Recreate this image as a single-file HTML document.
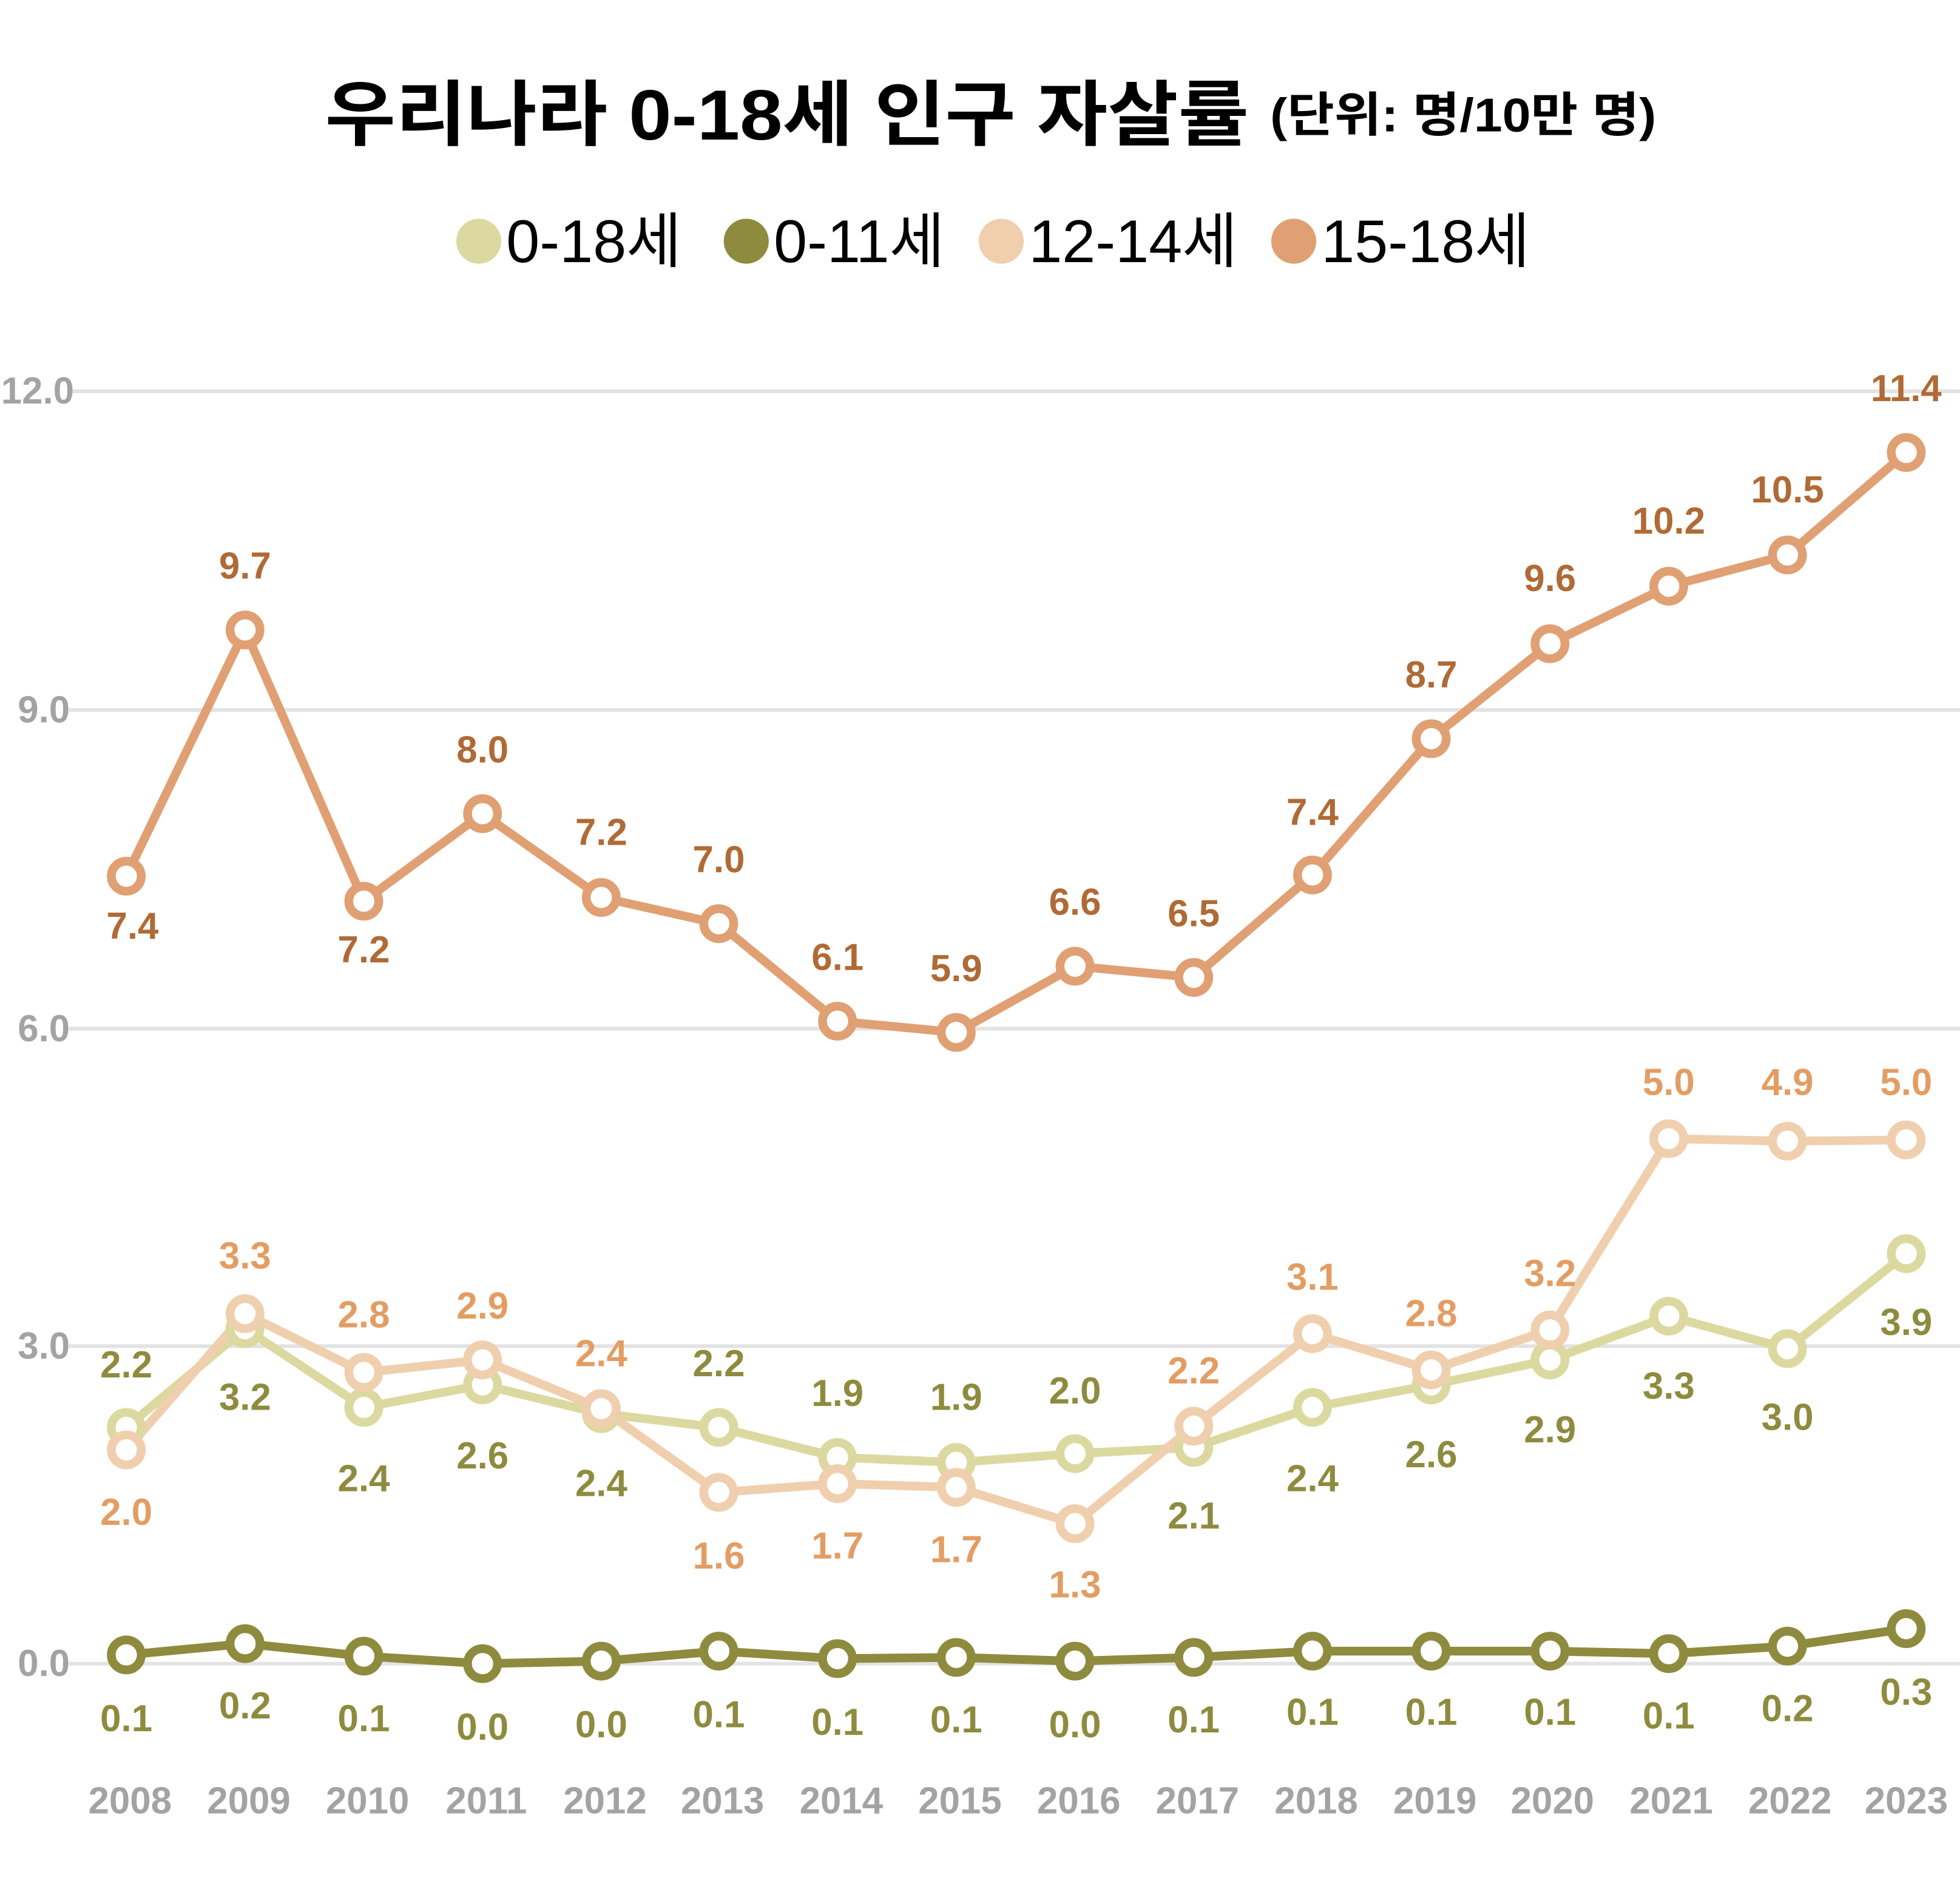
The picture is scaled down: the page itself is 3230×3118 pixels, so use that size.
<!DOCTYPE html>
<html><head><meta charset="utf-8"><style>
html,body{margin:0;padding:0;background:#fff;}
svg{display:block}
.t{font-family:"Liberation Sans Narrow","Liberation Sans",sans-serif;font-weight:bold;font-size:30px;text-anchor:middle;dominant-baseline:central}
.ax{fill:#a3a3a3}
.a{fill:#b06a35}.b{fill:#e39d63}.c{fill:#8e8b3e}
</style></head><body>
<svg width="3230" height="3118" viewBox="0 0 1568 1513.7" xmlns="http://www.w3.org/2000/svg">
<text x="260" y="92" textLength="1065" lengthAdjust="spacingAndGlyphs" dominant-baseline="central" font-family="'Liberation Sans','Noto Sans CJK KR',sans-serif" font-weight="bold" font-size="57" fill="#000">우리나라 0-18세 인구 자살률 <tspan font-size="38">(단위: 명/10만 명)</tspan></text>
<g font-family="'Liberation Sans','Noto Sans CJK KR',sans-serif" font-size="48" fill="#000" dominant-baseline="central">
<circle cx="383" cy="193" r="18" fill="#dcd9a0"/><text x="405" y="193">0-18세</text>
<circle cx="597" cy="193" r="18" fill="#8e8b3e"/><text x="619" y="193">0-11세</text>
<circle cx="801" cy="193" r="18" fill="#f0cfae"/><text x="823" y="193">12-14세</text>
<circle cx="1035" cy="193" r="18" fill="#e0a073"/><text x="1057" y="193">15-18세</text>
</g>
<g stroke="#e3e3e3" stroke-width="3">
<line x1="55" y1="313" x2="1568" y2="313"/><line x1="55" y1="568" x2="1568" y2="568"/><line x1="55" y1="823" x2="1568" y2="823"/><line x1="55" y1="1077" x2="1568" y2="1077"/><line x1="55" y1="1331" x2="1568" y2="1331"/>
</g>
<g class="t ax">
<text x="30" y="313">12.0</text><text x="35" y="568">9.0</text><text x="35" y="823">6.0</text><text x="35" y="1077">3.0</text><text x="35" y="1331">0.0</text>
<text x="104" y="1441">2008</text><text x="199" y="1441">2009</text><text x="294" y="1441">2010</text><text x="389" y="1441">2011</text><text x="484" y="1441">2012</text><text x="578" y="1441">2013</text><text x="673" y="1441">2014</text><text x="768" y="1441">2015</text><text x="863" y="1441">2016</text><text x="958" y="1441">2017</text><text x="1053" y="1441">2018</text><text x="1148" y="1441">2019</text><text x="1242" y="1441">2020</text><text x="1337" y="1441">2021</text><text x="1432" y="1441">2022</text><text x="1525" y="1441">2023</text>
</g>
<g fill="#fff" stroke-width="7" stroke-linejoin="round">
<polyline fill="none" stroke="#dcd9a0" points="101,1142 196,1063 291,1126 386,1108 481,1131 575,1142 670,1166 765,1170 860,1163 955,1158 1050,1126 1145,1108 1240,1088 1335,1053 1430,1079 1525,1003"/>
<polyline fill="none" stroke="#f0cfae" points="101,1160 196,1051 291,1098 386,1088 481,1127 575,1194 670,1187 765,1190 860,1219 955,1141 1050,1067 1145,1096 1240,1064 1335,911 1430,913 1525,912"/>
<polyline fill="none" stroke="#8e8b3e" points="101,1324 196,1315 291,1325 386,1331 481,1329 575,1321 670,1327 765,1326 860,1329 955,1326 1050,1321 1145,1321 1240,1321 1335,1323 1430,1317 1525,1303"/>
<polyline fill="none" stroke="#e0a073" points="101,701 196,504 291,721 386,651 481,718 575,739 670,817 765,826 860,773 955,782 1050,700 1145,591 1240,515 1335,469 1430,444 1525,362"/>
<g stroke="#dcd9a0"><circle cx="101" cy="1142" r="12"/><circle cx="196" cy="1063" r="12"/><circle cx="291" cy="1126" r="12"/><circle cx="386" cy="1108" r="12"/><circle cx="481" cy="1131" r="12"/><circle cx="575" cy="1142" r="12"/><circle cx="670" cy="1166" r="12"/><circle cx="765" cy="1170" r="12"/><circle cx="860" cy="1163" r="12"/><circle cx="955" cy="1158" r="12"/><circle cx="1050" cy="1126" r="12"/><circle cx="1145" cy="1108" r="12"/><circle cx="1240" cy="1088" r="12"/><circle cx="1335" cy="1053" r="12"/><circle cx="1430" cy="1079" r="12"/><circle cx="1525" cy="1003" r="12"/></g>
<g stroke="#f0cfae"><circle cx="101" cy="1160" r="12"/><circle cx="196" cy="1051" r="12"/><circle cx="291" cy="1098" r="12"/><circle cx="386" cy="1088" r="12"/><circle cx="481" cy="1127" r="12"/><circle cx="575" cy="1194" r="12"/><circle cx="670" cy="1187" r="12"/><circle cx="765" cy="1190" r="12"/><circle cx="860" cy="1219" r="12"/><circle cx="955" cy="1141" r="12"/><circle cx="1050" cy="1067" r="12"/><circle cx="1145" cy="1096" r="12"/><circle cx="1240" cy="1064" r="12"/><circle cx="1335" cy="911" r="12"/><circle cx="1430" cy="913" r="12"/><circle cx="1525" cy="912" r="12"/></g>
<g stroke="#8e8b3e"><circle cx="101" cy="1324" r="12"/><circle cx="196" cy="1315" r="12"/><circle cx="291" cy="1325" r="12"/><circle cx="386" cy="1331" r="12"/><circle cx="481" cy="1329" r="12"/><circle cx="575" cy="1321" r="12"/><circle cx="670" cy="1327" r="12"/><circle cx="765" cy="1326" r="12"/><circle cx="860" cy="1329" r="12"/><circle cx="955" cy="1326" r="12"/><circle cx="1050" cy="1321" r="12"/><circle cx="1145" cy="1321" r="12"/><circle cx="1240" cy="1321" r="12"/><circle cx="1335" cy="1323" r="12"/><circle cx="1430" cy="1317" r="12"/><circle cx="1525" cy="1303" r="12"/></g>
<g stroke="#e0a073"><circle cx="101" cy="701" r="12"/><circle cx="196" cy="504" r="12"/><circle cx="291" cy="721" r="12"/><circle cx="386" cy="651" r="12"/><circle cx="481" cy="718" r="12"/><circle cx="575" cy="739" r="12"/><circle cx="670" cy="817" r="12"/><circle cx="765" cy="826" r="12"/><circle cx="860" cy="773" r="12"/><circle cx="955" cy="782" r="12"/><circle cx="1050" cy="700" r="12"/><circle cx="1145" cy="591" r="12"/><circle cx="1240" cy="515" r="12"/><circle cx="1335" cy="469" r="12"/><circle cx="1430" cy="444" r="12"/><circle cx="1525" cy="362" r="12"/></g>
</g>
<g class="t a">
<text x="106" y="741">7.4</text><text x="196" y="453">9.7</text><text x="291" y="760">7.2</text><text x="386" y="600">8.0</text><text x="481" y="666">7.2</text><text x="575" y="688">7.0</text><text x="670" y="766">6.1</text><text x="765" y="775">5.9</text><text x="860" y="722">6.6</text><text x="955" y="731">6.5</text><text x="1050" y="650">7.4</text><text x="1145" y="540">8.7</text><text x="1240" y="463">9.6</text><text x="1335" y="417">10.2</text><text x="1430" y="392">10.5</text><text x="1525" y="311">11.4</text>
</g>
<g class="t b">
<text x="101" y="1210">2.0</text><text x="196" y="1005">3.3</text><text x="291" y="1052">2.8</text><text x="386" y="1045">2.9</text><text x="481" y="1083">2.4</text><text x="575" y="1245">1.6</text><text x="670" y="1237">1.7</text><text x="765" y="1240">1.7</text><text x="860" y="1268">1.3</text><text x="955" y="1097">2.2</text><text x="1050" y="1022">3.1</text><text x="1145" y="1051">2.8</text><text x="1240" y="1019">3.2</text><text x="1335" y="866">5.0</text><text x="1430" y="866">4.9</text><text x="1525" y="866">5.0</text>
</g>
<g class="t c">
<text x="101" y="1092">2.2</text><text x="196" y="1118">3.2</text><text x="291" y="1183">2.4</text><text x="386" y="1165">2.6</text><text x="481" y="1187">2.4</text><text x="575" y="1091">2.2</text><text x="670" y="1115">1.9</text><text x="765" y="1118">1.9</text><text x="860" y="1113">2.0</text><text x="955" y="1213">2.1</text><text x="1050" y="1183">2.4</text><text x="1145" y="1164">2.6</text><text x="1240" y="1144">2.9</text><text x="1335" y="1109">3.3</text><text x="1430" y="1134">3.0</text><text x="1525" y="1058">3.9</text>
<text x="101" y="1375">0.1</text><text x="196" y="1365">0.2</text><text x="291" y="1375">0.1</text><text x="386" y="1382">0.0</text><text x="481" y="1380">0.0</text><text x="575" y="1372">0.1</text><text x="670" y="1378">0.1</text><text x="765" y="1376">0.1</text><text x="860" y="1380">0.0</text><text x="955" y="1376">0.1</text><text x="1050" y="1370">0.1</text><text x="1145" y="1370">0.1</text><text x="1240" y="1370">0.1</text><text x="1335" y="1373">0.1</text><text x="1430" y="1367">0.2</text><text x="1525" y="1354">0.3</text>
</g>
</svg>
</body></html>
